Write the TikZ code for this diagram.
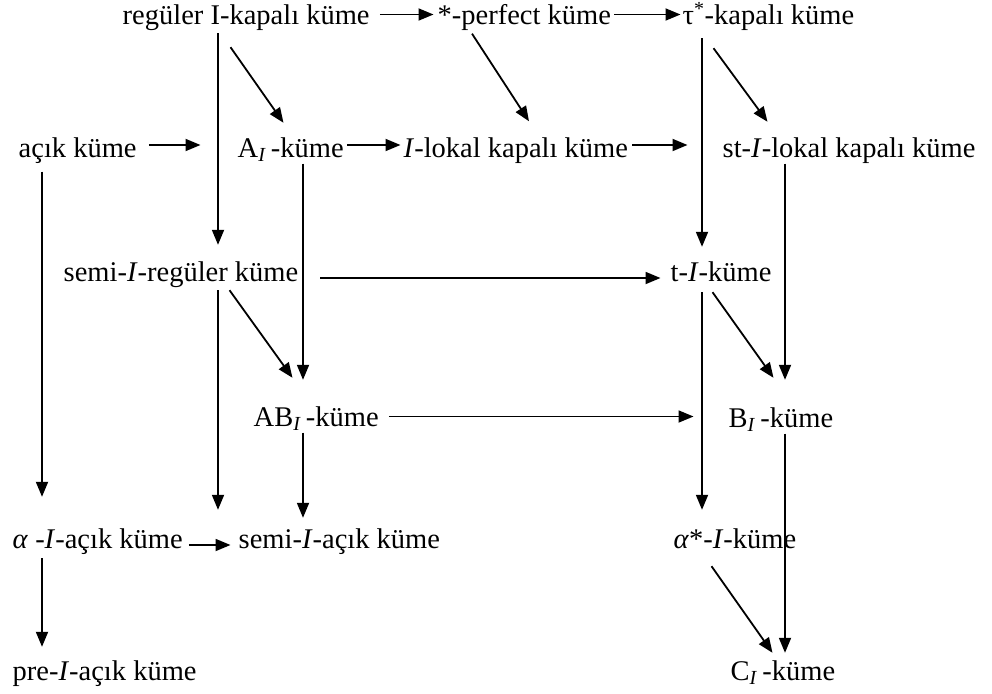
\documentclass[tikz,border=0pt]{standalone}
\usepackage{fontspec}
\setmainfont{Liberation Serif}
\usetikzlibrary{arrows.meta,calc}
\begin{document}
\begin{tikzpicture}[x=1pt,y=-1pt,
  lbl/.style={anchor=base west, inner sep=0.5pt, text height=20pt, text depth=6pt,
              font=\fontsize{28.5}{34}\selectfont},
  arr/.style={line width=1.8pt, -{Triangle[length=15pt,width=12pt]}}]
\fill[white] (0,0) rectangle (992,693);
\useasboundingbox (0,0) rectangle (992,693);

% concepts
\node[lbl] (reg)   at (122,25)  {regüler I-kapalı küme};
\node[lbl] (perf)  at (437,25)  {*-perfect küme};
\node[lbl] (tau)   at (682,25)  {τ\textsuperscript{*}-kapalı küme};
\node[lbl] (acik)  at (18,157)  {açık küme};
\node[lbl] (AI)    at (237,157) {A\textsubscript{\textit{I}}\,-küme};
\node[lbl] (ilok)  at (403,157) {\textit{I}-lokal kapalı küme};
\node[lbl] (stl)   at (722,157) {st-\textit{I}-lokal kapalı küme};
\node[lbl] (sreg)  at (63,281)  {semi-\textit{I}-regüler küme};
\node[lbl] (tI)    at (670,281) {t-\textit{I}-küme};
\node[lbl] (AB)    at (253,426) {AB\textsubscript{\textit{I}}\,-küme};
\node[lbl] (BI)    at (728,427) {B\textsubscript{\textit{I}}\,-küme};
\node[lbl] (alpha) at (12,548)  {\textit{α} -\textit{I}-açık küme};
\node[lbl] (sacik) at (238,548) {semi-\textit{I}-açık küme};
\node[lbl] (astar) at (673,548) {\textit{α}*-\textit{I}-küme};
\node[lbl] (pre)   at (12,680)  {pre-\textit{I}-açık küme};
\node[lbl] (CI)    at (730,680) {C\textsubscript{\textit{I}}\,-küme};

% columns of the vertical implications
\coordinate (cA) at (42,0);
\coordinate (cB) at (218,0);
\coordinate (cC) at (303,0);
\coordinate (cD) at (702,0);
\coordinate (cE) at (785,0);

% vertical implications
\draw[arr, shorten <=1.5pt, shorten >=15.5pt] (reg.south -| cB) -- (sreg.north -| cB);
\draw[arr, shorten <=6.5pt, shorten >=13.5pt] (tau.south -| cD) -- (tI.north -| cD);
\draw[arr, shorten <=8pt,   shorten >=30.5pt] (acik.south -| cA) -- (alpha.north -| cA);
\draw[arr, shorten <=2.5pt, shorten >=17.5pt] (sreg.south -| cB) -- (sacik.north -| cB);
\draw[arr, shorten >=25.5pt] (AI.south -| cC) -- (AB.north -| cC);
\draw[arr, shorten >=9.5pt]  (AB.south -| cC) -- (sacik.north -| cC);
\draw[arr, shorten >=26.5pt] (stl.south -| cE) -- (BI.north -| cE);
\draw[arr, shorten <=4.5pt, shorten >=17.5pt] (tI.south -| cD) -- (astar.north -| cD);
\draw[arr, shorten >=6.5pt]  (BI.south -| cE) -- (CI.north -| cE);
\draw[arr, shorten <=3.5pt, shorten >=12.5pt] (alpha.south -| cA) -- (pre.north -| cA);

% horizontal implications
\draw[arr] ($(reg.base east)+(9.5,-10.5)$)   -- ($(perf.base west)+(-3.5,-10.5)$);
\draw[arr] ($(perf.base east)+(2.5,-10.5)$)  -- ($(tau.base west)+(-1.5,-10.5)$);
\draw[arr] ($(acik.base east)+(11.5,-12)$)   -- ($(AI.base west)+(-36.5,-12)$);
\draw[arr] ($(AI.base east)+(3,-12)$)        -- ($(ilok.base west)+(-2.5,-12)$);
\draw[arr] ($(ilok.base east)+(3.5,-12)$)    -- ($(stl.base west)+(-34.5,-12)$);
\draw[arr] ($(sreg.base east)+(21.5,-3)$)    -- ($(tI.base west)+(-9.5,-3)$);
\draw[arr] ($(AB.base east)+(9.5,-9.5)$)     -- ($(BI.base west)+(-34.5,-10.5)$);
\draw[arr] ($(alpha.base east)+(5.5,-3)$)    -- ($(sacik.base west)+(-7.5,-3)$);

% diagonal implications
\draw[arr] ($(reg.south west)+(108.5,15.5)$) -- ($(AI.north west)+(46.5,-13.5)$);
\draw[arr] ($(perf.south west)+(35,2)$)      -- ($(ilok.north west)+(126,-15)$);
\draw[arr] ($(tau.south west)+(31.5,16.5)$)  -- ($(stl.north west)+(45.5,-14.5)$);
\draw[arr] ($(sreg.south west)+(166.5,2.5)$) -- ($(AB.north west)+(39.5,-27.5)$);
\draw[arr] ($(tI.south west)+(42.5,4.5)$)    -- ($(BI.north west)+(45.5,-28.5)$);
\draw[arr] ($(astar.south west)+(38.5,11.5)$) -- ($(CI.north west)+(42.5,-6.5)$);
\end{tikzpicture}
\end{document}
